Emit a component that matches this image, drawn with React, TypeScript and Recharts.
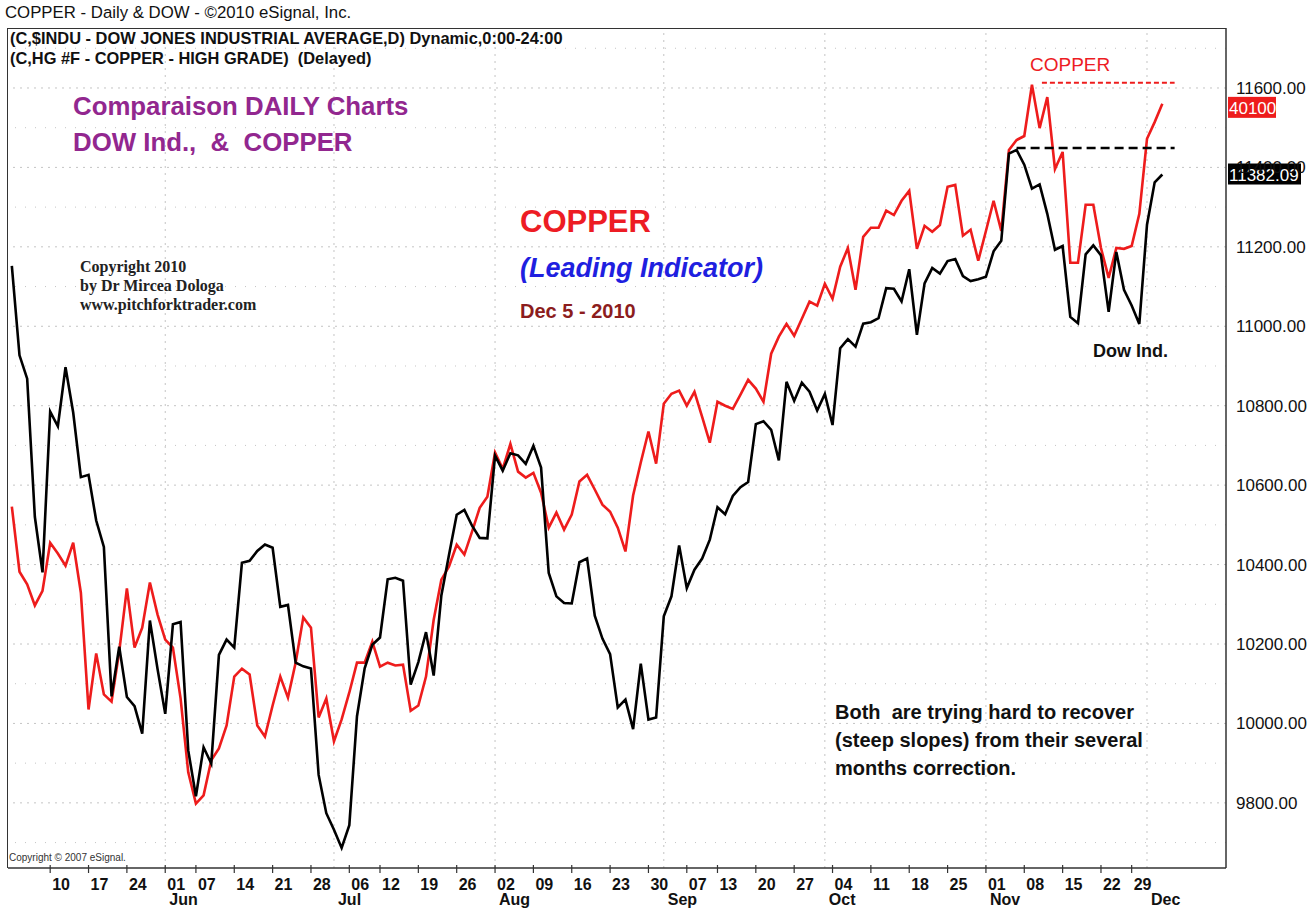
import React from 'react';
import { LineChart, Line, XAxis, YAxis, ReferenceLine, ReferenceDot } from 'recharts';

// DOW Industrials, daily close, 3 May - 3 Dec 2010 (one value per trading day)
const dow = [
  11151.83, 10926.77, 10868.12, 10520.32, 10380.43, 10785.14, 10748.26, 10896.91, 10782.95, 10620.16,
  10625.83, 10510.95, 10444.37, 10068.01, 10193.39, 10066.57, 10043.75, 9974.45, 10258.99, 10136.63,
  10024.02, 10249.54, 10255.28, 9931.97, 9816.49, 9939.98, 9899.25, 10172.53, 10211.07, 10190.89,
  10404.77, 10409.46, 10434.17, 10450.64, 10442.41, 10293.52, 10298.44, 10152.8, 10143.81, 10138.52,
  9870.3, 9774.02,
  9732.53, 9686.48, 9743.62, 10018.28, 10138.99, 10198.03, 10216.27, 10363.02, 10366.72, 10359.31,
  10097.9, 10154.43, 10229.96, 10120.53, 10322.3, 10424.62, 10525.43, 10537.69, 10497.88, 10467.16,
  10465.94,
  10674.38, 10636.38, 10680.43, 10674.98, 10653.56, 10698.75, 10644.25, 10378.83, 10319.95, 10303.15,
  10302.01, 10405.85, 10415.54, 10271.21, 10213.62, 10174.41, 10040.45, 10060.06, 9985.81, 10150.65,
  10009.73, 10014.72,
  10269.47, 10320.1, 10447.93, 10340.69, 10387.01, 10415.24, 10462.77, 10544.13, 10526.49, 10572.73,
  10594.83, 10607.85, 10753.62, 10761.03, 10739.31, 10662.42, 10860.26, 10812.04, 10858.14, 10835.28,
  10788.05,
  10829.68, 10751.27, 10944.72, 10967.65, 10948.58, 11006.48, 11010.34, 11020.4, 11096.08, 11094.57,
  11062.78, 11143.69, 10978.62, 11107.97, 11146.57, 11132.56, 11164.05, 11169.46, 11126.28, 11113.95,
  11118.49,
  11124.62, 11188.72, 11215.13, 11434.84, 11444.08, 11406.84, 11346.75, 11357.04, 11283.1, 11192.58,
  11201.97, 11023.5, 11007.88, 11181.23, 11203.55, 11178.58, 11036.37, 11187.28, 11092.0, 11052.49,
  11006.02,
  11255.78, 11362.41, 11382.09
];

// copper overlay in the DOW price scale
const copper = [
  10546, 10382, 10350, 10297, 10334, 10455, 10428, 10397, 10455, 10329,
  10035, 10176, 10073, 10055, 10181, 10340, 10191, 10241, 10355, 10274,
  10211, 10191, 10063, 9877, 9798, 9819, 9907, 9937, 9995, 10118,
  10138, 10123, 9995, 9967, 10045, 10118, 10065, 10153, 10267, 10241,
  10015, 10063, 9955, 10010, 10078, 10153, 10153, 10206, 10143, 10153,
  10146, 10148, 10032, 10045, 10118, 10261, 10362, 10395, 10450, 10425,
  10483, 10543, 10571, 10682, 10641, 10704, 10634, 10619, 10631, 10581,
  10493, 10531, 10488, 10526, 10609, 10626, 10589, 10551, 10533, 10493,
  10433, 10574, 10657, 10735, 10654, 10805, 10830, 10838, 10800, 10835,
  10772, 10707, 10810, 10800, 10792, 10828, 10865, 10843, 10810, 10931,
  10974, 11006, 10976, 11019, 11062, 11052, 11107, 11069, 11150, 11197,
  11092, 11225, 11248, 11248, 11291, 11280, 11316, 11341, 11195, 11253,
  11238, 11255, 11351, 11356, 11228, 11243, 11165, 11240, 11316, 11240,
  11444, 11469, 11479, 11608, 11499, 11577, 11396, 11439, 11160, 11160,
  11306, 11306, 11197, 11122, 11197, 11195, 11202, 11283, 11472, 11514,
  11560
];

// first trading day of each week (index in the series) + day label
const weekTicks = [5, 10, 15, 20, 24, 29, 34, 39, 44, 48, 53, 58, 63, 68, 73, 78, 83, 88, 92, 97, 102, 107, 112, 117, 122, 127, 132, 137, 142, 146];
const weekLabels = ['10', '17', '24', '01', '07', '14', '21', '28', '06', '12', '19', '26', '02', '09', '16', '23', '30', '07', '13', '20', '27', '04', '11', '18', '25', '01', '08', '15', '22', '29'];

// first trading day of each month
const monthTicks = [20, 42, 63, 85, 106, 127, 148];
const monthLabels = ['Jun', 'Jul', 'Aug', 'Sep', 'Oct', 'Nov', 'Dec'];

const priceTicks = [9800, 10000, 10200, 10400, 10600, 10800, 11000, 11200, 11400, 11600];
const gridLevels = [9700, 9800, 9900, 10000, 10100, 10200, 10300, 10400, 10500, 10600, 10700, 10800, 10900, 11000, 11100, 11200, 11300, 11400, 11500, 11600, 11700];

// dashed resistance lines at the November highs
const dowHigh = { from: 131, to: 151.6, level: 11449 };
const copperHigh = { from: 134.3, to: 151.6, level: 11613 };
const copperLast = '40100';

const data = dow.map((d, i) => ({ i, dow: d, copper: copper[i] }));
const allTicks = Array.from(new Set([...weekTicks, ...monthTicks])).sort((a, b) => a - b);

const SANS = '"Liberation Sans", Arial, sans-serif';
const NARROW = '"Liberation Sans Narrow", "Arial Narrow", "Liberation Sans", Arial, sans-serif';

// y passed in sits 6px under the axis line (tick size is still counted)
const DateTick = (props: any) => {
  const { x, y, payload } = props;
  const w = weekTicks.indexOf(payload.value);
  const m = monthTicks.indexOf(payload.value);
  return (
    <g>
      {w >= 0 && <line x1={x} x2={x} y1={y - 9} y2={y - 1} stroke="#333" strokeWidth={1.2} />}
      {w >= 0 && (
        <text x={x + 2} y={y + 16} fontFamily={NARROW} fontWeight="bold" fontSize={16} fill="#111">
          {weekLabels[w]}
        </text>
      )}
      {m >= 0 && (
        <text x={x + 4} y={y + 31} fontFamily={NARROW} fontWeight="bold" fontSize={16} fill="#111">
          {monthLabels[m]}
        </text>
      )}
    </g>
  );
};

const PriceTick = (props: any) => {
  const { x, y, payload } = props;
  return (
    <text x={x} y={y + 6} textAnchor="start" fontFamily={SANS} fontSize={17} fill="#111">
      {payload.value.toFixed(2)}
    </text>
  );
};

const tag = (text: string, fill: string, shift: number, w: number) => (p: any) => (
  <g>
    <rect x={p.cx + 2} y={p.cy + shift - 11} width={w} height={21} fill={fill} />
    <text x={p.cx + 3} y={p.cy + shift + 6} fontFamily={SANS} fontSize={17} fill="#fff">{text}</text>
  </g>
);

const abs = (left: number, top: number, extra: React.CSSProperties): React.CSSProperties => ({
  position: 'absolute', left, top, lineHeight: 1, whiteSpace: 'pre', fontFamily: SANS, ...extra
});

export default function App() {
  return (
    <div style={{ position: 'relative', width: 1308, height: 908, background: '#fff' }}>
      <style>{'body{margin:0;background:#fff}'}</style>
      <LineChart width={1308} height={908} data={data} margin={{ top: 28, right: 0, bottom: 0, left: 8 }}>
        <XAxis
          dataKey="i"
          type="number"
          domain={[-0.5, 158.3]}
          ticks={allTicks}
          interval={0}
          tick={DateTick}
          tickLine={false}
          tickMargin={0}
          height={40}
          axisLine={{ stroke: '#333', strokeWidth: 1.5 }}
          allowDataOverflow
        />
        <YAxis
          orientation="right"
          domain={[9636, 11751]}
          ticks={priceTicks}
          tick={PriceTick}
          tickLine={false}
          tickMargin={4}
          width={82}
          axisLine={{ stroke: '#333', strokeWidth: 1.5 }}
          allowDataOverflow
        />
        {gridLevels.map((g) => (
          <ReferenceLine key={'h' + g} y={g} stroke="#c4c4c4" strokeDasharray={g % 200 === 0 ? '2 5' : '1 9'} />
        ))}
        {monthTicks.map((m) => (
          <ReferenceLine key={'v' + m} x={m} stroke="#c4c4c4" strokeDasharray="2 5" />
        ))}
        <Line dataKey="copper" type="linear" stroke="#ee1c1c" strokeWidth={2.6} dot={false} isAnimationActive={false} />
        <Line dataKey="dow" type="linear" stroke="#000" strokeWidth={2.6} dot={false} isAnimationActive={false} />
        <ReferenceLine
          segment={[{ x: copperHigh.from, y: copperHigh.level }, { x: copperHigh.to, y: copperHigh.level }]}
          stroke="#ee1c1c" strokeWidth={2} strokeDasharray="5 3" ifOverflow="visible"
        />
        <ReferenceLine
          segment={[{ x: dowHigh.from, y: dowHigh.level }, { x: dowHigh.to, y: dowHigh.level }]}
          stroke="#000" strokeWidth={2.6} strokeDasharray="9 5" ifOverflow="visible"
        />
        <ReferenceDot x={158.3} y={copper[copper.length - 1]} ifOverflow="visible" shape={tag(copperLast, '#ee1c1c', 4, 48)} />
        <ReferenceDot x={158.3} y={dow[dow.length - 1]} ifOverflow="visible" shape={tag(dow[dow.length - 1].toFixed(2), '#000', 0, 73)} />
      </LineChart>

      {/* frame: left + top edges (bottom/right are the axes) */}
      <div style={{ position: 'absolute', left: 7, top: 28, width: 1219, height: 840, borderLeft: '1.5px solid #333', borderTop: '1.5px solid #333', boxSizing: 'border-box', pointerEvents: 'none' }} />

      {/* header */}
      <div style={abs(5, 5, { fontSize: 16.8, color: '#111' })}>COPPER - Daily &amp; DOW - ©2010 eSignal, Inc.</div>
      <div style={abs(10, 30, { fontSize: 16.4, fontWeight: 'bold', color: '#111' })}>(C,$INDU - DOW JONES INDUSTRIAL AVERAGE,D) Dynamic,0:00-24:00</div>
      <div style={abs(10, 50, { fontSize: 16.4, fontWeight: 'bold', color: '#111' })}>(C,HG #F - COPPER - HIGH GRADE)  (Delayed)</div>

      {/* annotations */}
      <div style={abs(73, 94, { fontSize: 25.8, fontWeight: 'bold', color: '#92278f' })}>Comparaison DAILY Charts</div>
      <div style={abs(73, 130, { fontSize: 25.8, fontWeight: 'bold', color: '#92278f' })}>DOW Ind.,  &amp;  COPPER</div>

      <div style={{ ...abs(80, 257, { fontSize: 16, fontWeight: 'bold', color: '#222' }), lineHeight: '19px', fontFamily: '"Liberation Serif", "Times New Roman", serif' }}>
        Copyright 2010{'\n'}by Dr Mircea Dologa{'\n'}www.pitchforktrader.com
      </div>

      <div style={abs(520, 206, { fontSize: 31, fontWeight: 'bold', color: '#ed1c24' })}>COPPER</div>
      <div style={abs(520, 255, { fontSize: 27, fontWeight: 'bold', fontStyle: 'italic', color: '#1f1fe0' })}>(Leading Indicator)</div>
      <div style={abs(520, 301, { fontSize: 20, fontWeight: 'bold', color: '#8c1d1d' })}>Dec 5 - 2010</div>

      <div style={abs(1030, 55, { fontSize: 19, color: '#ed1c24' })}>COPPER</div>
      <div style={abs(1093, 342, { fontSize: 18, fontWeight: 'bold', color: '#111' })}>Dow Ind.</div>

      <div style={{ ...abs(835, 698, { fontSize: 20, fontWeight: 'bold', color: '#111' }), lineHeight: '28px' }}>
        Both  are trying hard to recover{'\n'}(steep slopes) from their several{'\n'}months correction.
      </div>

      <div style={abs(9, 853, { fontSize: 10, color: '#333' })}>Copyright © 2007 eSignal.</div>
    </div>
  );
}
